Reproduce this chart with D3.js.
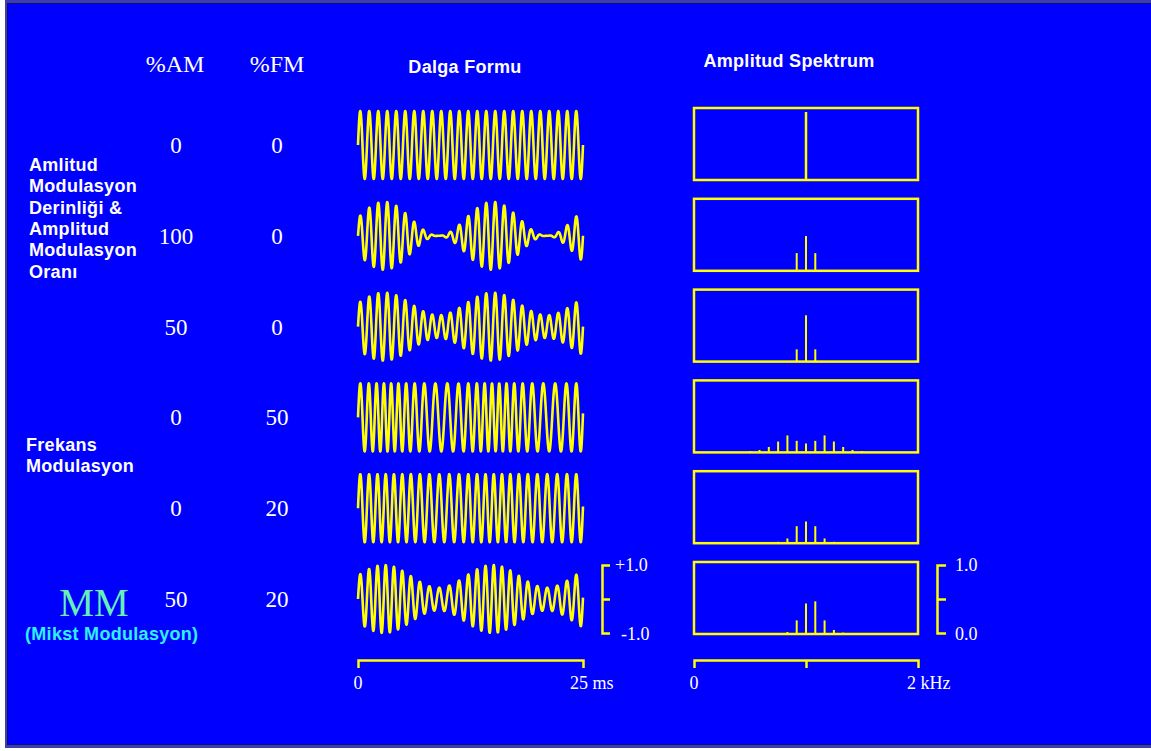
<!DOCTYPE html>
<html>
<head>
<meta charset="utf-8">
<script src="https://cdn.jsdelivr.net/npm/d3@7"></script>
<style>
    body { margin: 0; background: #ffffff; }
    svg { display: block; }
    .serif { font-family: "Liberation Serif", "Times New Roman", serif; fill: #ffffff; }
    .sans { font-family: "Liberation Sans", Arial, sans-serif; font-weight: bold; fill: #ffffff; letter-spacing: 0.3px; }
    .bracket path, .bracket line { stroke: #ffff00; stroke-width: 2.5; fill: none; }
    .bracket text { display: none; }
</style>
</head>
<body>
<div id="graph"></div>
<script>
"use strict";
(function() {
    const svgSize = {
        width : 1151,
        height: 751,
    };

    // modulation settings of each row (the %AM and %FM columns)
    const rowAM = [0, 100, 50, 0, 0, 50];
    const rowFM = [0, 0, 0, 50, 20, 20];

    // signal parameters
    const carrierHz = 1000;
    const modHz = 83;
    const amPeakMs = 2.9;      // time of first envelope maximum
    const fmPeakMs = 3.3;      // time of first frequency maximum
    const fmHzPerPct = 5;      // 50 %FM -> +/-250 Hz
    const durationMs = 25;

    // spectrum lines: first sideband index and line heights (0..1)
    const sidebandStart = [0, -1, -1, -6, -3, -2];
    const sidebandAmps = [
        [1.0],
        [0.26, 0.51, 0.26],
        [0.18, 0.68, 0.18],
        [0.02, 0.035, 0.08, 0.16, 0.25, 0.17, 0.13, 0.17, 0.25, 0.16, 0.08, 0.035, 0.02],
        [0.02, 0.07, 0.25, 0.32, 0.25, 0.07, 0.02],
        [0.03, 0.2, 0.45, 0.48, 0.2, 0.06, 0.02]
    ];

    const timeLabels = ["0", "25 ms"];
    const freqLabels = ["0", "2 kHz"];
    const waveLabels = ["+1.0", "-1.0"];
    const specLabels = ["1.0", "0.0"];

    const amLabel = ["Amlitud", "Modulasyon", "Derinliği &", "Amplitud", "Modulasyon", "Oranı"];
    const fmLabel = ["Frekans", "Modulasyon"];

    const yellow = "#ffff00";

    window.addEventListener("load", init);

    function init() {
        let svg = d3.select("#graph")
                    .append("svg")
                        .attr("width", svgSize.width)
                        .attr("height", svgSize.height);
        drawFrame(svg);

        let rowY = d3.scalePoint()
                        .domain(d3.range(rowAM.length))
                        .range([145, 599]);
        let xTime = d3.scaleLinear().domain([0, durationMs]).range([358, 583]);
        let yAmp = d3.scaleLinear().domain([-1, 1]).range([34, -34]);
        let xFreq = d3.scaleLinear().domain([0, 2000]).range([694, 918]);
        let yMag = d3.scaleLinear().domain([0, 1]).range([35, -33]);

        drawHeaders(svg, rowY);
        drawWaves(svg, rowY, xTime, yAmp);
        drawSpectra(svg, rowY, xFreq, yMag);
        drawScales(svg, rowY, xTime, yAmp, xFreq, yMag);
    }

    function drawFrame(svg) {
        svg.append("rect")
            .attr("x", 5).attr("y", 0)
            .attr("width", svgSize.width - 5).attr("height", 748)
            .attr("fill", "#3c3cb4");
        svg.append("rect")
            .attr("x", 7).attr("y", 3)
            .attr("width", svgSize.width - 7).attr("height", 742)
            .attr("fill", "#10106a");
        svg.append("rect")
            .attr("x", 8).attr("y", 4)
            .attr("width", svgSize.width - 8).attr("height", 740)
            .attr("fill", "#0000ff");
    }

    function drawHeaders(svg, rowY) {
        svg.append("text").attr("class", "serif")
            .attr("x", 175).attr("y", 72)
            .attr("text-anchor", "middle").attr("font-size", 24)
            .text("%AM");
        svg.append("text").attr("class", "serif")
            .attr("x", 277).attr("y", 72)
            .attr("text-anchor", "middle").attr("font-size", 24)
            .text("%FM");
        svg.append("text").attr("class", "sans")
            .attr("x", 465).attr("y", 73)
            .attr("text-anchor", "middle").attr("font-size", 18)
            .text("Dalga Formu");
        svg.append("text").attr("class", "sans")
            .attr("x", 789).attr("y", 67)
            .attr("text-anchor", "middle").attr("font-size", 18)
            .text("Amplitud Spektrum");

        rowAM.forEach((v, i) => {
            svg.append("text").attr("class", "serif")
                .attr("x", 176).attr("y", rowY(i) + 8)
                .attr("text-anchor", "middle").attr("font-size", 23)
                .text(v);
            svg.append("text").attr("class", "serif")
                .attr("x", 277).attr("y", rowY(i) + 8)
                .attr("text-anchor", "middle").attr("font-size", 23)
                .text(rowFM[i]);
        });

        amLabel.forEach((s, i) => {
            svg.append("text").attr("class", "sans")
                .attr("x", 29).attr("y", 171 + i * 21.3)
                .attr("font-size", 18)
                .text(s);
        });
        fmLabel.forEach((s, i) => {
            svg.append("text").attr("class", "sans")
                .attr("x", 26).attr("y", 451 + i * 21.3)
                .attr("font-size", 18)
                .text(s);
        });

        svg.append("text").attr("class", "serif")
            .attr("x", 94).attr("y", 616)
            .attr("text-anchor", "middle").attr("font-size", 39)
            .style("fill", "#66f0b8")
            .text("MM");
        svg.append("text").attr("class", "sans")
            .attr("x", 25).attr("y", 640)
            .attr("font-size", 18)
            .style("fill", "#30f0ff")
            .text("(Mikst Modulasyon)");
    }

    function signal(t, am, fm) {
        let m = am / 100;
        let env = (1 + m * Math.cos(2 * Math.PI * modHz * (t - amPeakMs) / 1000)) / (1 + m);
        let beta = fm * fmHzPerPct / modHz;
        let phase = 2 * Math.PI * carrierHz * t / 1000
            + beta * (Math.sin(2 * Math.PI * modHz * (t - fmPeakMs) / 1000)
                    - Math.sin(-2 * Math.PI * modHz * fmPeakMs / 1000));
        return env * Math.sin(phase);
    }

    function drawWaves(svg, rowY, xTime, yAmp) {
        let times = d3.range(0, durationMs + 0.0001, 0.02);
        rowAM.forEach((am, i) => {
            let fm = rowFM[i];
            let line = d3.line()
                .x((t) => xTime(t))
                .y((t) => rowY(i) + yAmp(signal(t, am, fm)));
            svg.append("path")
                .datum(times)
                .attr("d", line)
                .attr("fill", "none")
                .attr("stroke", yellow)
                .attr("stroke-width", 2.6)
                .attr("stroke-linejoin", "round");
        });
    }

    function drawSpectra(svg, rowY, xFreq, yMag) {
        rowAM.forEach((am, i) => {
            let cy = rowY(i);
            svg.append("rect")
                .attr("x", xFreq(0)).attr("y", cy - 37)
                .attr("width", xFreq(2000) - xFreq(0)).attr("height", 72)
                .attr("fill", "none")
                .attr("stroke", yellow)
                .attr("stroke-width", 2.5);

            let lines = sidebandAmps[i].map((a, k) => ({
                f: carrierHz + (sidebandStart[i] + k) * modHz,
                a: a
            }));
            svg.append("g").selectAll("line")
                .data(lines)
                .enter()
                .append("line")
                    .attr("x1", (d) => xFreq(d.f))
                    .attr("x2", (d) => xFreq(d.f))
                    .attr("y1", cy + yMag(0))
                    .attr("y2", (d) => cy + yMag(d.a))
                    .attr("stroke", yellow)
                    .attr("stroke-width", i == 0 ? 2.5 : 2);
        });
    }

    function drawScales(svg, rowY, xTime, yAmp, xFreq, yMag) {
        let cy = rowY(rowAM.length - 1);

        // time and frequency brackets under the last row
        svg.append("g").attr("class", "bracket")
            .attr("transform", "translate(0,660)")
            .call(d3.axisBottom(xTime).tickValues([]).tickSizeOuter(8));
        svg.append("g").attr("class", "bracket")
            .attr("transform", "translate(0,660)")
            .call(d3.axisBottom(xFreq).tickValues([carrierHz]).tickSizeInner(8).tickSizeOuter(8));

        svg.append("text").attr("class", "serif")
            .attr("x", xTime(0)).attr("y", 689)
            .attr("text-anchor", "middle").attr("font-size", 18)
            .text(timeLabels[0]);
        svg.append("text").attr("class", "serif")
            .attr("x", xTime(durationMs) - 13).attr("y", 689)
            .attr("font-size", 18)
            .text(timeLabels[1]);
        svg.append("text").attr("class", "serif")
            .attr("x", xFreq(0)).attr("y", 689)
            .attr("text-anchor", "middle").attr("font-size", 18)
            .text(freqLabels[0]);
        svg.append("text").attr("class", "serif")
            .attr("x", xFreq(2000) - 11).attr("y", 689)
            .attr("font-size", 18)
            .text(freqLabels[1]);

        // amplitude brackets beside the last row
        let yWave = yAmp.copy().range([cy + 34, cy - 34]);
        svg.append("g").attr("class", "bracket")
            .attr("transform", "translate(602,0)")
            .call(d3.axisRight(yWave).tickValues([0]).tickSizeInner(8).tickSizeOuter(8));
        let ySpec = yMag.copy().range([cy + 34, cy - 34]);
        svg.append("g").attr("class", "bracket")
            .attr("transform", "translate(937,0)")
            .call(d3.axisRight(ySpec).tickValues([0.5]).tickSizeInner(9).tickSizeOuter(9));

        svg.append("text").attr("class", "serif")
            .attr("x", 615).attr("y", yWave(1) + 6)
            .attr("font-size", 18)
            .text(waveLabels[0]);
        svg.append("text").attr("class", "serif")
            .attr("x", 621).attr("y", yWave(-1) + 7)
            .attr("font-size", 18)
            .text(waveLabels[1]);
        svg.append("text").attr("class", "serif")
            .attr("x", 955).attr("y", ySpec(1) + 6)
            .attr("font-size", 18)
            .text(specLabels[0]);
        svg.append("text").attr("class", "serif")
            .attr("x", 955).attr("y", ySpec(0) + 7)
            .attr("font-size", 18)
            .text(specLabels[1]);
    }

})();
</script>
</body>
</html>
